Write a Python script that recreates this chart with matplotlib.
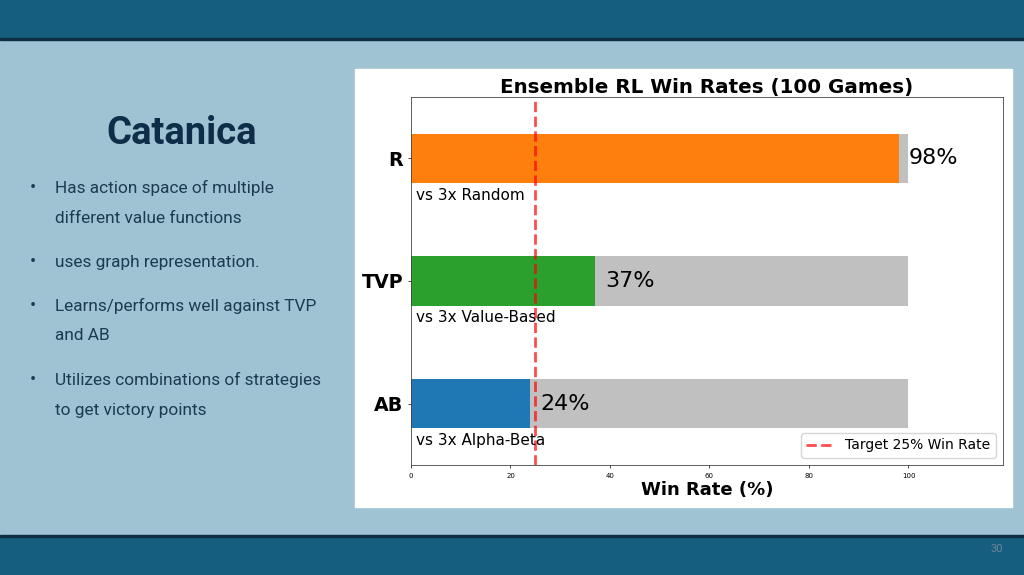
import matplotlib.pyplot as plt
from matplotlib.patches import Rectangle

# data
agentes = ["AB", "TVP", "R"]
win_rate = [24, 37, 98]
rivales = ["vs 3x Alpha-Beta", "vs 3x Value-Based", "vs 3x Random"]
colores = ["#1f77b4", "#2ca02c", "#ff7f0e"]
objetivo = 25
ticks_x = [0, 20, 40, 60, 80, 100]

bullets = [
    ["Has action space of multiple", "different value functions"],
    ["uses graph representation."],
    ["Learns/performs well against TVP", "and AB"],
    ["Utilizes combinations of strategies", "to get victory points"],
]

fig = plt.figure(figsize=(10.24, 5.75), dpi=100)
fig.patch.set_facecolor("#a0c3d3")

# barras de arriba y abajo de la diapositiva
fig.patches.append(Rectangle((0, 1 - 38 / 575), 1, 38 / 575, transform=fig.transFigure,
                             color="#155e80", zorder=-2))
fig.patches.append(Rectangle((0, 1 - 40 / 575), 1, 2 / 575, transform=fig.transFigure,
                             color="#0c2f42", zorder=-2))
fig.patches.append(Rectangle((0, 0), 1, 38 / 575, transform=fig.transFigure,
                             color="#155e80", zorder=-2))
fig.patches.append(Rectangle((0, 38 / 575), 1, 2 / 575, transform=fig.transFigure,
                             color="#0c2f42", zorder=-2))
# caja blanca del grafico
fig.patches.append(Rectangle((355 / 1024, 68 / 575), 657 / 1024, 438 / 575,
                             transform=fig.transFigure, color="white", zorder=-2))

fig.text(182 / 1024, 1 - 134 / 575, "Catanica", ha="center", va="center",
         fontsize=27.5, fontweight="bold", family="Roboto", color="#0d2d48")

y = 188
for b in bullets:
    fig.text(33 / 1024, 1 - y / 575, "•", ha="center", va="center",
             fontsize=13, family="Roboto", color="#1b3b52")
    for linea in b:
        fig.text(55 / 1024, 1 - y / 575, linea, ha="left", va="center",
                 fontsize=12.4, family="Roboto", color="#1b3b52")
        y += 30
    y += 14

fig.text(997 / 1024, 1 - 549 / 575, "30", ha="center", va="center",
         fontsize=8, family="Roboto", color="#6f8796")

# grafico
ax = fig.add_axes([411 / 1024, 110 / 575, 592 / 1024, 368 / 575])
ax.set_zorder(5)
pos = list(range(len(agentes)))
ax.barh(pos, [100] * len(agentes), height=0.4, color="silver")
ax.barh(pos, win_rate, height=0.4, color=colores)
for i in pos:
    ax.text(win_rate[i] + 2, i, f"{win_rate[i]}%", va="center", ha="left", fontsize=16)
    ax.text(1, i - 0.3, rivales[i], va="center", ha="left", fontsize=11)
ax.axvline(objetivo, color="red", linestyle="--", linewidth=2, alpha=0.7,
           label="Target 25% Win Rate")
ax.set_xlim(0, 119)
ax.set_ylim(-0.5, 2.5)
ax.set_yticks(pos)
ax.set_yticklabels(agentes, fontsize=13.7, fontweight="bold")
ax.set_xticks(ticks_x)
ax.tick_params(axis="x", labelsize=5, length=2, width=0.5)
ax.tick_params(axis="y", length=2, width=0.5)
for s in ax.spines.values():
    s.set_linewidth(0.6)
    s.set_color("#444444")
ax.set_title("Ensemble RL Win Rates (100 Games)", fontsize=14.3, fontweight="bold", pad=2)
ax.set_xlabel("Win Rate (%)", fontsize=13, fontweight="bold", labelpad=2)
ax.legend(loc="lower right", fontsize=10)

plt.savefig("out.png", dpi=100)
